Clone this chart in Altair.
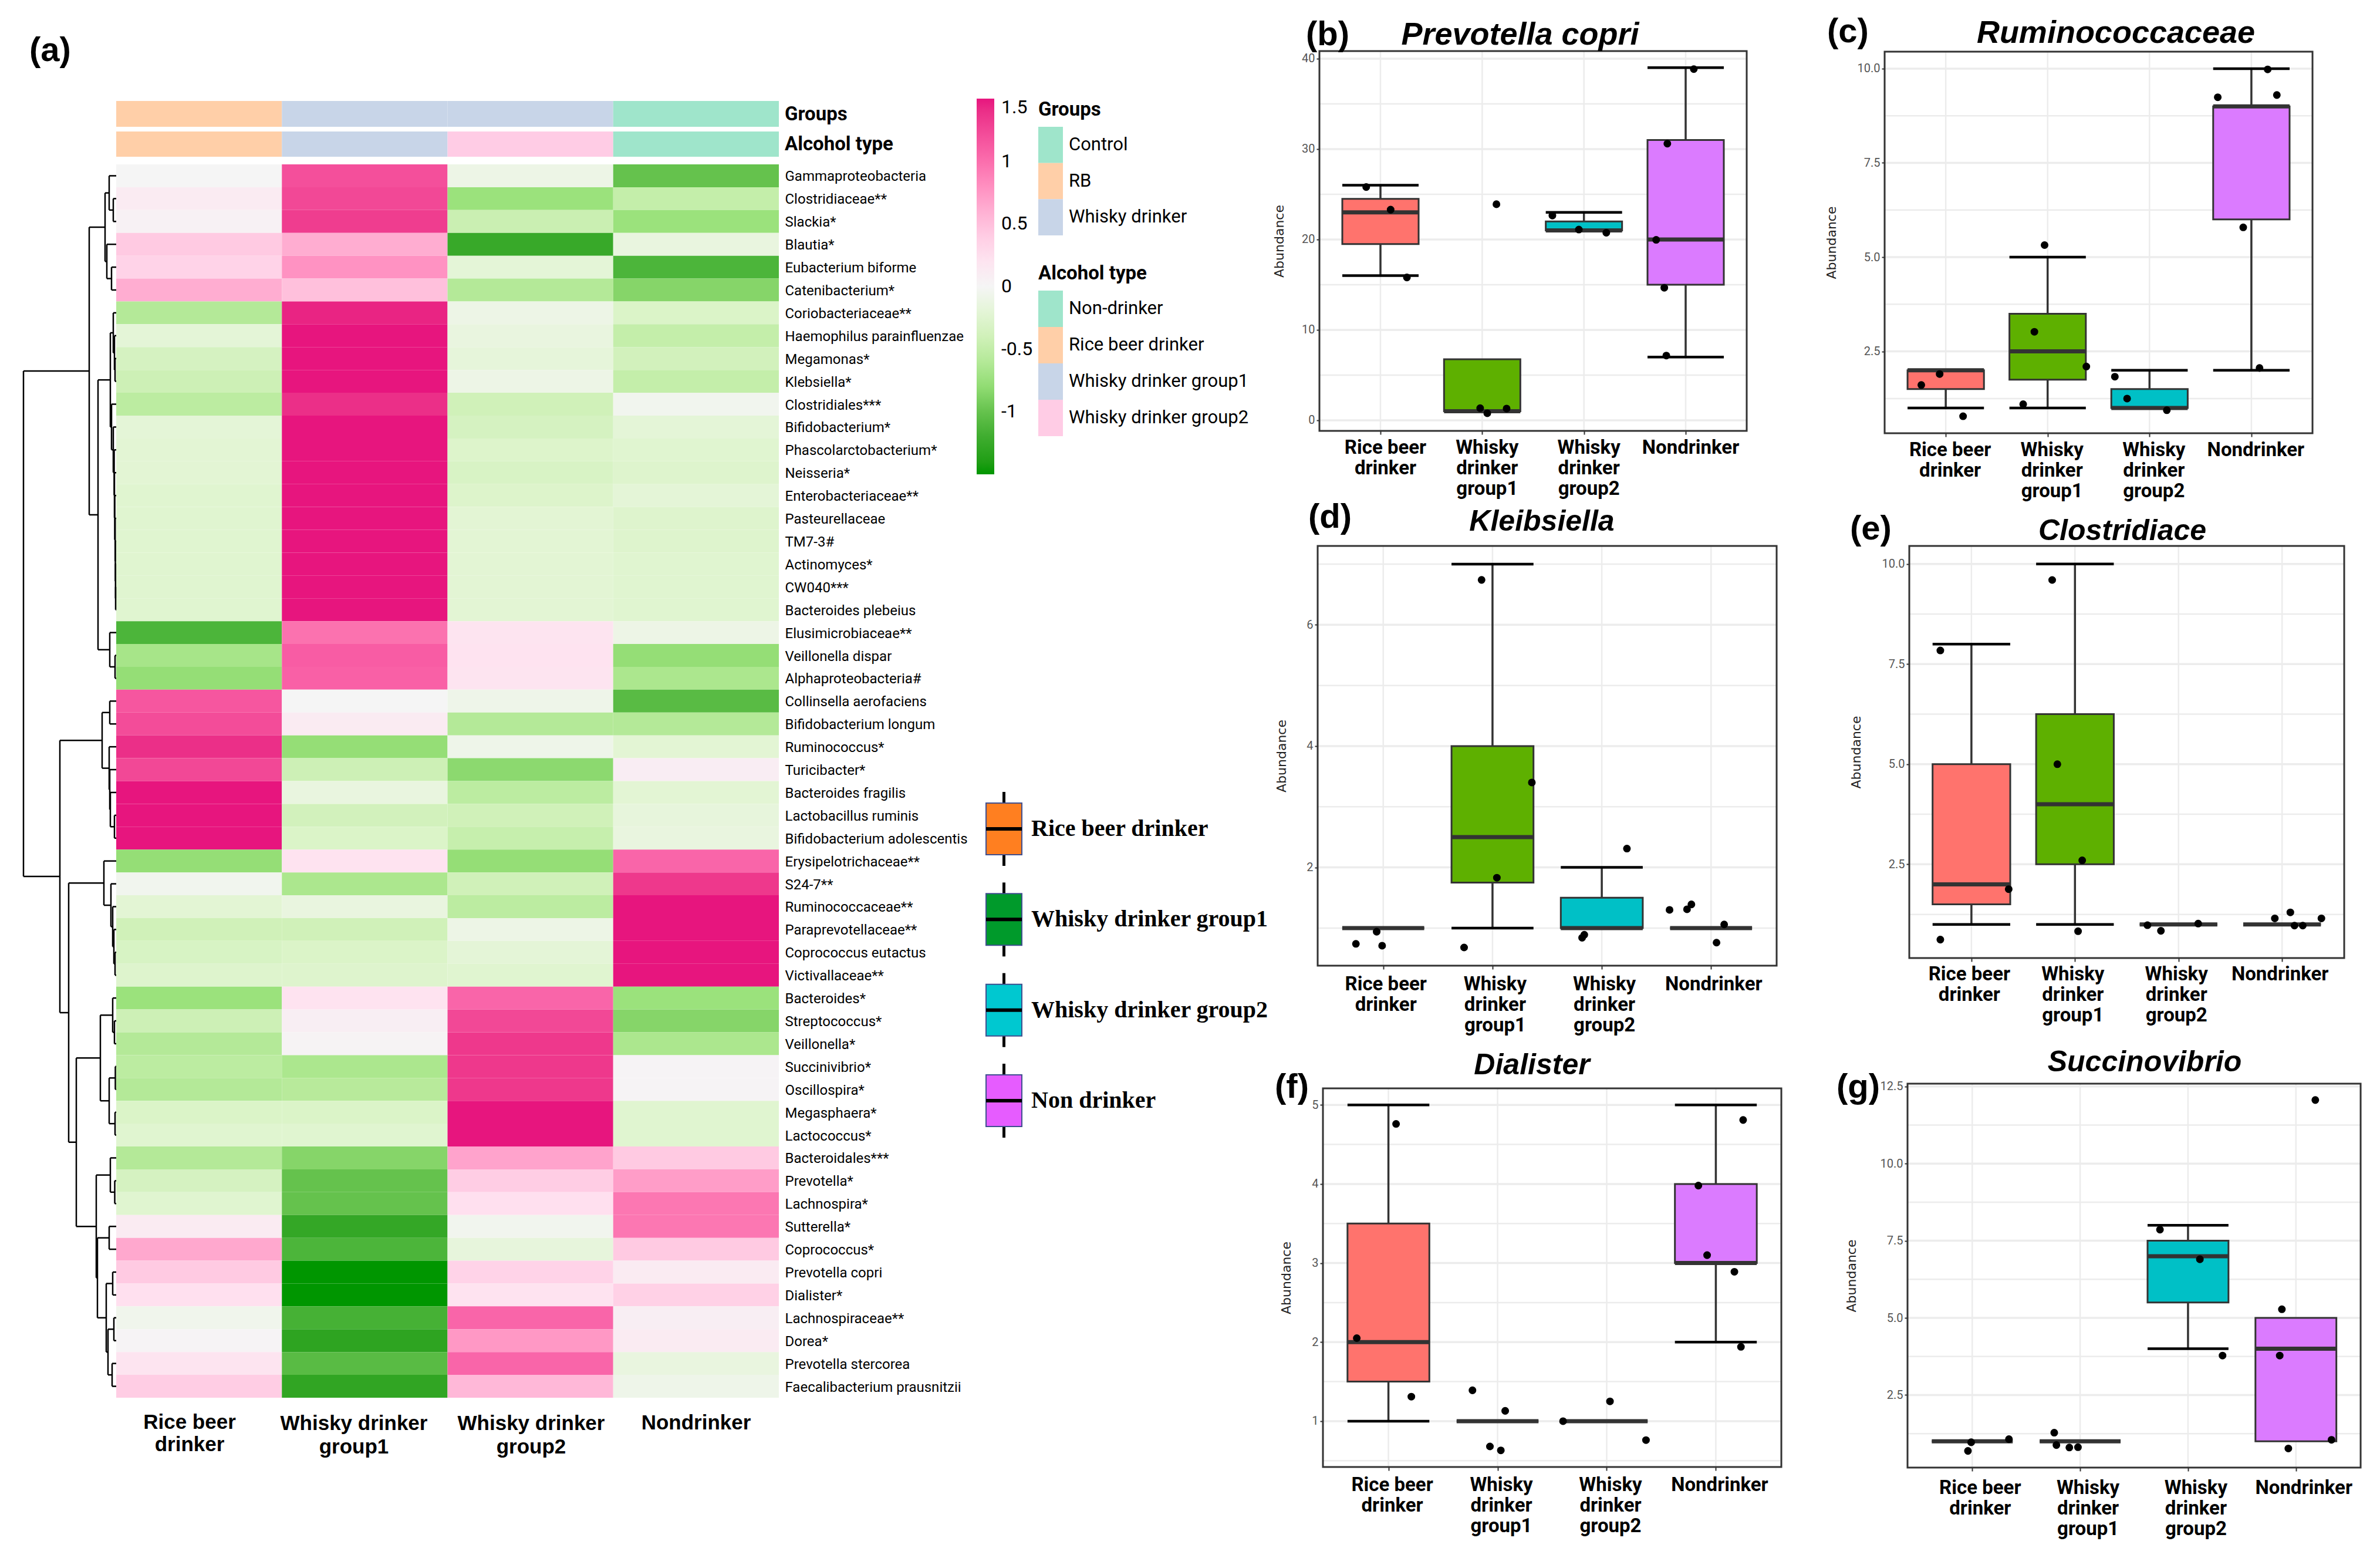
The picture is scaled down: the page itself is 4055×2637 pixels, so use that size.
import altair as alt
import pandas as pd

W, H = 4039, 2621
SANS = "Liberation Sans"
NARROW = "Roboto"
SERIF = "Liberation Serif"
ONE = alt.Data(values=[{"k": 1}])

def px(v):
    return v - 8

# ---------------- heatmap values ----------------
COLUMNS = ["Rice beer drinker", "Whisky drinker group1", "Whisky drinker group2", "Nondrinker"]
TAXA = ["Gammaproteobacteria", "Clostridiaceae**", "Slackia*", "Blautia*", "Eubacterium biforme", "Catenibacterium*",
        "Coriobacteriaceae**", "Haemophilus parainfluenzae", "Megamonas*", "Klebsiella*", "Clostridiales***",
        "Bifidobacterium*", "Phascolarctobacterium*", "Neisseria*", "Enterobacteriaceae**", "Pasteurellaceae",
        "TM7-3#", "Actinomyces*", "CW040***", "Bacteroides plebeius", "Elusimicrobiaceae**", "Veillonella dispar",
        "Alphaproteobacteria#", "Collinsella aerofaciens", "Bifidobacterium longum", "Ruminococcus*", "Turicibacter*",
        "Bacteroides fragilis", "Lactobacillus ruminis", "Bifidobacterium adolescentis", "Erysipelotrichaceae**",
        "S24-7**", "Ruminococcaceae**", "Paraprevotellaceae**", "Coprococcus eutactus", "Victivallaceae**",
        "Bacteroides*", "Streptococcus*", "Veillonella*", "Succinivibrio*", "Oscillospira*", "Megasphaera*",
        "Lactococcus*", "Bacteroidales***", "Prevotella*", "Lachnospira*", "Sutterella*", "Coprococcus*",
        "Prevotella copri", "Dialister*", "Lachnospiraceae**", "Dorea*", "Prevotella stercorea",
        "Faecalibacterium prausnitzii"]
Z = [[0, 1.2, -.1, -1.0], [.12, 1.25, -.75, -.5], [.05, 1.32, -.45, -.75], [.42, .62, -1.25, -.15],
     [.35, .78, -.2, -1.1], [.62, .5, -.6, -.85], [-.6, 1.45, -.1, -.3], [-.2, 1.5, -.15, -.5],
     [-.35, 1.5, -.18, -.38], [-.42, 1.5, -.1, -.5], [-.55, 1.4, -.4, -.05], [-.2, 1.5, -.35, -.2],
     [-.22, 1.5, -.28, -.25], [-.22, 1.5, -.32, -.27], [-.25, 1.5, -.28, -.2], [-.25, 1.5, -.22, -.27],
     [-.25, 1.5, -.22, -.27], [-.25, 1.5, -.22, -.25], [-.25, 1.5, -.22, -.25], [-.25, 1.5, -.22, -.25],
     [-1.1, .98, .2, -.1], [-.68, 1.1, .22, -.78], [-.78, 1.08, .2, -.65], [1.15, 0, -.08, -1.05],
     [1.22, .12, -.6, -.6], [1.4, -.78, -.08, -.22], [1.25, -.42, -.82, .1], [1.5, -.15, -.55, -.22],
     [1.5, -.38, -.4, -.17], [1.5, -.3, -.48, -.15], [-.78, .22, -.78, 1.05], [-.05, -.65, -.4, 1.35],
     [-.22, -.15, -.55, 1.5], [-.4, -.4, -.1, 1.5], [-.33, -.3, -.2, 1.5], [-.27, -.27, -.25, 1.5],
     [-.75, .22, 1.05, -.75], [-.42, .08, 1.25, -.85], [-.6, .03, 1.35, -.65], [-.55, -.65, 1.35, .02],
     [-.6, -.58, 1.35, .02], [-.3, -.3, 1.5, -.25], [-.25, -.25, 1.5, -.25], [-.6, -.85, .68, .42],
     [-.35, -1.0, .4, .72], [-.25, -1.0, .25, .95], [.12, -1.28, -.05, .95], [.65, -1.1, -.17, .42],
     [.42, -1.5, .35, .12], [.25, -1.5, .22, .37], [-.06, -1.15, 1.05, .08], [.02, -1.32, .75, .12],
     [.2, -1.05, 1.05, -.15], [.4, -1.3, .55, -.08]]

# dendrogram: (merge height, left, right), leaves are row numbers
TREE = (158,
        (46,
         (19, (12, 1, (5, 2, 3)), (16, 4, (8, 5, 6))),
         (31,
          (10,
           (5, 7, (3, 8, (2, 9, 10))),
           (8, 11, (5, 12, (3.5, 13, (3, 14, (2.5, 15, (1.8, 16, (1.5, 17, (1.2, 18, (1, 19, 20))))))))),
           ),
          (11, 21, (2, 22, 23)))),
        (96,
         (24, (11, 24, 25), (12, 26, (11, 27, (10, 28, (3, 29, 30))))),
         (81,
          (21, 31, (9, 32, (6, 33, (4, 34, (2, 35, 36))))),
          (68,
           (27, (6, 37, (3, 38, 39)), (12, (1.5, 40, 41), (2, 42, 43))),
           (34,
            (10, 44, (2.5, 45, 46)),
            (32,
             (12, 47, 48),
             (17, (6, 49, 50), (14, (4, 51, 52), (7, 53, 54)))))))))

GROUP_LEVELS = ["Control", "RB", "Whisky drinker"]
ALCOHOL_LEVELS = ["Non-drinker", "Rice beer drinker", "Whisky drinker group1", "Whisky drinker group2"]
GROUP_BY_COL = ["RB", "Whisky drinker", "Whisky drinker", "Control"]
ALCOHOL_BY_COL = ["Rice beer drinker", "Whisky drinker group1", "Whisky drinker group2", "Non-drinker"]
GROUP_COLORS = ["#9fe5cb", "#ffcfa8", "#c8d5e8"]
ALCOHOL_COLORS = ["#9fe5cb", "#ffcfa8", "#c8d5e8", "#ffcce5"]

HEAT_STOPS = [-1.5, -1.1, -.75, -.5, -.25, 0, .25, .5, .8, 1.1, 1.5]
HEAT_COLORS = ["#009600", "#4cb53a", "#9be27c", "#c4eeaa", "#e0f5d0", "#f5f5f5", "#ffe0ef", "#ffc0dc", "#ff8fc0",
               "#f85ca4", "#e7157e"]

KEY_NAMES = ["Rice beer drinker", "Whisky drinker group1", "Whisky drinker group2", "Non drinker"]
KEY_COLORS = ["#ff7f20", "#009a2b", "#00c8d0", "#e65cff"]

# ---------------- box panels: [low, q1, median, q3, high] per group ----------------
BOX_FILL = ["#ff736d", "#5eb000", "#00c0c6", "#db7bff"]
B_STATS = [[16, 19.5, 23, 24.5, 26], [1, 1, 1, 6.75, 6.75], [21, 21, 21, 22, 23], [7, 15, 20, 31, 39]]
B_POINTS = [(.86, 25.8), (1.10, 23.3), (1.26, 15.8), (2.14, 23.9), (1.98, 1.34), (2.05, .78), (2.24, 1.3),
            (2.69, 22.65), (2.95, 21.1), (3.22, 20.75), (4.08, 38.85), (3.82, 30.6), (3.71, 19.96), (3.79, 14.66),
            (3.81, 7.16)]
C_STATS = [[1, 1.5, 2, 2, 2], [1, 1.75, 2.5, 3.5, 5], [1, 1, 1, 1.5, 2], [2, 6, 9, 9, 10]]
C_POINTS = [(.76, 1.61), (.94, 1.9), (1.17, .78), (1.97, 5.32), (1.87, 3.02), (2.38, 2.1), (1.76, 1.1), (2.66, 1.83),
            (2.78, 1.25), (3.17, .94), (4.16, 9.98), (3.67, 9.24), (4.25, 9.3), (3.92, 5.79), (4.08, 2.06)]
D_STATS = [[1, 1, 1, 1, 1], [1, 1.75, 2.5, 4, 7], [1, 1, 1, 1.5, 2], [1, 1, 1, 1, 1]]
D_POINTS = [(.75, .74), (.94, .94), (.99, .71), (1.9, 6.74), (2.36, 3.4), (2.04, 1.83), (1.74, .68), (3.23, 2.31),
            (2.84, .89), (2.82, .84), (3.62, 1.3), (3.78, 1.31), (3.82, 1.39), (4.12, 1.06), (4.05, .76)]
E_STATS = [[1, 1.5, 2, 5, 8], [1, 2.5, 4, 6.25, 10], [1, 1, 1, 1, 1], [1, 1, 1, 1, 1]]
E_POINTS = [(.7, 7.84), (1.36, 1.88), (.7, .62), (1.78, 9.6), (1.83, 5.0), (2.07, 2.6), (2.03, .83), (2.7, .98),
            (2.83, .84), (3.19, 1.02), (3.93, 1.15), (4.08, 1.3), (4.12, .97), (4.2, .97), (4.38, 1.15)]
F_STATS = [[1, 1.5, 2, 3.5, 5], [1, 1, 1, 1, 1], [1, 1, 1, 1, 1], [2, 3, 3, 4, 5]]
F_POINTS = [(1.07, 4.76), (.71, 2.05), (1.21, 1.31), (1.77, 1.39), (2.07, 1.13), (1.93, .68), (2.03, .63), (2.6, 1.0),
            (3.03, 1.25), (3.36, .76), (4.25, 4.81), (3.84, 3.98), (3.92, 3.1), (4.17, 2.89), (4.23, 1.94)]
G_STATS = [[1, 1, 1, 1, 1], [1, 1, 1, 1, 1], [4, 5.5, 7, 7.5, 8], [1, 1, 4, 5, 5]]
G_POINTS = [(.99, .97), (1.34, 1.07), (.96, .69), (1.76, 1.28), (1.78, .88), (1.9, .8), (1.98, .81), (2.74, 7.86),
            (3.11, 6.9), (3.32, 3.78), (3.87, 5.28), (3.85, 3.78), (4.33, 1.05), (3.93, .77), (4.18, 12.06)]

BOX_LABELS = "split(['Rice beer|drinker','Whisky|drinker|group1','Whisky|drinker|group2','Nondrinker'][datum.value-1],'|')"


def label(text, x, y, size, weight="normal", style="normal", font=SANS, align="left", color="black"):
    return alt.Chart(ONE).mark_text(text=text, fontSize=size, fontWeight=weight, fontStyle=style, font=font,
                                    align=align, baseline="middle", color=color).encode(
        x=alt.value(px(x)), y=alt.value(px(y)))


def box_panel(stats, points, frame, ydom, majors, minors, fmt, label_dx, label_pad, title_dist):
    x0, x1, y0, y1 = [px(v) for v in frame]
    xs = alt.Scale(domain=[.4, 4.6], range=[x0, x1], nice=False, zero=False)
    ys = alt.Scale(domain=ydom, range=[y1, y0], nice=False, zero=False)
    box = pd.DataFrame(stats, columns=["lo", "q1", "med", "q3", "hi"])
    box["g"] = [1, 2, 3, 4]
    box["l"] = box.g - .375
    box["r"] = box.g + .375
    up = box[box.hi > box.q3]
    dn = box[box.lo < box.q1]
    pts = pd.DataFrame(points, columns=["x", "y"])
    gr = pd.DataFrame({"v": list(majors) + list(minors),
                       "w": ["major"] * len(majors) + ["minor"] * len(minors),
                       "a": .4, "b": 4.6})
    vert = pd.DataFrame({"g": [1, 2, 3, 4], "lo": ydom[0], "hi": ydom[1]})
    fr = pd.DataFrame({"a": [.4], "b": [4.6], "lo": [ydom[0]], "hi": [ydom[1]]})

    xq = lambda f: alt.X(f, type="quantitative", scale=xs, axis=None)
    yq = lambda f: alt.Y(f, type="quantitative", scale=ys, axis=None)

    grid_h = alt.Chart(gr).mark_rule(color="#ececec").encode(
        x=alt.X("a:Q", scale=xs, axis=alt.Axis(
            orient="bottom", offset=y1 - H, values=[1, 2, 3, 4], grid=False, domain=False, title=None,
            labelExpr=BOX_LABELS, labelFontSize=33, labelFontWeight="bold", labelFont=NARROW, labelColor="black",
            labelLineHeight=35, labelOverlap=False, labelOffset=label_dx, labelPadding=label_pad, tickSize=6,
            tickWidth=2, tickColor="#333333", labelFlush=False, labelBound=False, labelLimit=500)),
        x2="b:Q",
        y=alt.Y("v:Q", scale=ys, axis=alt.Axis(
            orient="left", offset=-x0, values=list(majors), format=fmt, grid=False, domain=False,
            title="Abundance", titleFont="DejaVu Sans", titleFontSize=22, titleFontWeight="normal",
            titleColor="#222222", titleX=-title_dist, labelFontSize=20, labelFont=NARROW, labelColor="#555555",
            labelOverlap=False, tickSize=5, tickWidth=2, tickColor="#333333", labelPadding=3, labelFlush=False,
            labelBound=False)),
        strokeWidth=alt.StrokeWidth("w:N", scale=alt.Scale(domain=["major", "minor"], range=[3.5, 2.5]), legend=None))
    grid_v = alt.Chart(vert).mark_rule(color="#ececec", strokeWidth=2.5).encode(
        x=xq("g"), y=yq("lo"), y2="hi:Q")
    whisk_up = alt.Chart(up).mark_rule(color="#333333", strokeWidth=3.5).encode(x=xq("g"), y=yq("q3"), y2="hi:Q")
    whisk_dn = alt.Chart(dn).mark_rule(color="#333333", strokeWidth=3.5).encode(x=xq("g"), y=yq("lo"), y2="q1:Q")
    cap_up = alt.Chart(up).mark_rule(color="black", strokeWidth=4.5).encode(x=xq("l"), x2="r:Q", y=yq("hi"))
    cap_dn = alt.Chart(dn).mark_rule(color="black", strokeWidth=4.5).encode(x=xq("l"), x2="r:Q", y=yq("lo"))
    rects = alt.Chart(box).mark_rect(stroke="#333333", strokeWidth=3).encode(
        x=xq("l"), x2="r:Q", y=yq("q1"), y2="q3:Q",
        color=alt.Color("g:N", scale=alt.Scale(domain=[1, 2, 3, 4], range=BOX_FILL), legend=None))
    med = alt.Chart(box).mark_rule(color="#333333", strokeWidth=7).encode(x=xq("l"), x2="r:Q", y=yq("med"))
    dots = alt.Chart(pts).mark_circle(color="black", size=170, opacity=1).encode(x=xq("x"), y=yq("y"))
    frm = alt.Chart(fr).mark_rect(fill="transparent", stroke="#333333", strokeWidth=3).encode(
        x=xq("a"), x2="b:Q", y=yq("lo"), y2="hi:Q")
    return [grid_h, grid_v, whisk_up, whisk_dn, cap_up, cap_dn, rects, med, dots, frm]


layers = []

# ---------------- heatmap ----------------
heat_x = alt.Scale(type="band", domain=COLUMNS, range=[px(198), px(1327)], paddingInner=0, paddingOuter=0)
heat_y = alt.Scale(type="band", domain=TAXA, range=[px(280), px(2381)], paddingInner=0, paddingOuter=0)
heat_df = pd.DataFrame([{"taxon": t, "col": c, "z": v}
                        for t, row in zip(TAXA, Z) for c, v in zip(COLUMNS, row)])
layers.append(alt.Chart(heat_df).mark_rect().encode(
    x=alt.X("col:N", scale=heat_x, axis=None),
    y=alt.Y("taxon:N", scale=heat_y, axis=alt.Axis(
        orient="right", offset=px(1327) - W, title=None, domain=False, ticks=False, grid=False, labelFont=NARROW,
        labelFontSize=24, labelColor="black", labelPadding=10, labelLimit=500, labelOverlap=False, labelBound=False,
        labelOffset=2)),
    color=alt.Color("z:Q", scale=alt.Scale(domain=HEAT_STOPS, range=HEAT_COLORS, clamp=True),
                    legend=alt.Legend(orient="none", legendX=px(1664), legendY=px(168), title=None,
                                      gradientLength=640, gradientThickness=30, values=[-1, -.5, 0, .5, 1, 1.5],
                                      labelExpr="'' + datum.value", labelFontSize=32, labelFont=NARROW,
                                      labelColor="black", labelOffset=12, labelOverlap=False,
                                      gradientStrokeWidth=0))))

# annotation tracks
for by_col, levels, colors, top, bot in [(GROUP_BY_COL, GROUP_LEVELS, GROUP_COLORS, 172, 216),
                                         (ALCOHOL_BY_COL, ALCOHOL_LEVELS, ALCOHOL_COLORS, 224, 267)]:
    df = pd.DataFrame({"col": COLUMNS, "lvl": by_col, "a": [0] * 4, "b": [1] * 4})
    layers.append(alt.Chart(df).mark_rect().encode(
        x=alt.X("col:N", scale=heat_x, axis=None),
        y=alt.Y("a:Q", scale=alt.Scale(domain=[0, 1], range=[px(bot), px(top)]), axis=None),
        y2="b:Q",
        color=alt.Color("lvl:N", scale=alt.Scale(domain=levels, range=colors), legend=None)))

# swatch legends
for levels, colors, top, bot in [(GROUP_LEVELS, GROUP_COLORS, 216, 401), (ALCOHOL_LEVELS, ALCOHOL_COLORS, 495, 743)]:
    df = pd.DataFrame({"lvl": levels, "a": 0, "b": 1})
    ys = alt.Scale(type="band", domain=levels, range=[px(top), px(bot)], paddingInner=0, paddingOuter=0)
    sw = alt.Chart(df).mark_rect().encode(
        x=alt.X("a:Q", scale=alt.Scale(domain=[0, 1], range=[px(1769), px(1811)]), axis=None), x2="b:Q",
        y=alt.Y("lvl:N", scale=ys, axis=None),
        color=alt.Color("lvl:N", scale=alt.Scale(domain=levels, range=colors), legend=None))
    tx = alt.Chart(df).mark_text(align="left", baseline="middle", fontSize=31, font=NARROW, color="black").encode(
        x=alt.value(px(1821)), y=alt.Y("lvl:N", scale=ys, axis=None), text="lvl:N")
    layers.extend([sw, tx])

# dendrogram
segs = []


def walk(node):
    if not isinstance(node, tuple):
        return float(node), 0.0
    h, a, b = node
    ya, ha = walk(a)
    yb, hb = walk(b)
    segs.append({"x": ha, "x2": h, "y": ya, "y2": ya})
    segs.append({"x": hb, "x2": h, "y": yb, "y2": yb})
    segs.append({"x": h, "x2": h, "y": ya, "y2": yb})
    return (ya + yb) / 2, h


walk(TREE)
layers.append(alt.Chart(pd.DataFrame(segs)).mark_rule(color="black", strokeWidth=2.5).encode(
    x=alt.X("x:Q", scale=alt.Scale(domain=[0, 178], range=[px(198), px(20)], nice=False, zero=False), axis=None),
    x2="x2:Q",
    y=alt.Y("y:Q", scale=alt.Scale(domain=[.5, 54.5], range=[px(280), px(2381)], nice=False, zero=False), axis=None),
    y2="y2:Q"))

# box-plot key
key = pd.DataFrame({"name": KEY_NAMES, "r": [0, 1, 2, 3]})
key["wt"], key["wb"], key["bt"], key["bb"] = key.r - .408, key.r + .408, key.r - .285, key.r + .285
key["a"], key["b"] = 0, 1
ky = alt.Scale(domain=[0, 3], range=[px(1412), px(1875)], nice=False, zero=False)
kx = alt.Scale(domain=[0, 1], range=[px(1680), px(1741)], nice=False, zero=False)
kxq = lambda f: alt.X(f, type="quantitative", scale=kx, axis=None)
kyq = lambda f: alt.Y(f, type="quantitative", scale=ky, axis=None)
key_w = alt.Chart(key).transform_calculate(c="0.5").mark_rule(color="black", strokeWidth=5).encode(
    x=kxq("c"), y=kyq("wt"), y2="wb:Q")
key_b = alt.Chart(key).mark_rect(stroke="#3f4f8f", strokeWidth=2).encode(
    x=kxq("a"), x2="b:Q", y=kyq("bt"), y2="bb:Q",
    color=alt.Color("name:N", scale=alt.Scale(domain=KEY_NAMES, range=KEY_COLORS), legend=None))
key_m = alt.Chart(key).mark_rule(color="black", strokeWidth=6).encode(x=kxq("a"), x2="b:Q", y=kyq("r"))
key_t = alt.Chart(key).mark_text(align="left", baseline="middle", fontSize=40, font=SERIF, fontWeight="bold",
                                 color="black").encode(x=alt.value(px(1757)), y=kyq("r"), text="name:N")
layers.extend([key_w, key_b, key_m, key_t])

# ---------------- box panels ----------------
G25 = [2.5, 5, 7.5, 10]
G25_M = [1.25, 3.75, 6.25, 8.75]
layers += box_panel(B_STATS, B_POINTS, (2248, 2976, 87, 734), [-1.17, 40.84], [0, 10, 20, 30, 40],
                    [5, 15, 25, 35], "d", 8, 6, 57)
layers += box_panel(C_STATS, C_POINTS, (3211, 3940, 88, 738), [.33, 10.45], G25, G25_M, ".1f", 7, 6, 79)
layers += box_panel(D_STATS, D_POINTS, (2245, 3027, 930, 1645), [.38, 7.3], [2, 4, 6], [1, 3, 5, 7], "d", 4, 9, 50)
layers += box_panel(E_STATS, E_POINTS, (3253, 3994, 930, 1632), [.16, 10.45], G25, G25_M, ".1f", -4, 5, 79)
layers += box_panel(F_STATS, F_POINTS, (2254, 3035, 1854, 2499), [.42, 5.21], [1, 2, 3, 4, 5],
                    [.5, 1.5, 2.5, 3.5, 4.5], "d", 6, 8, 51)
layers += box_panel(G_STATS, G_POINTS, (3250, 4022, 1846, 2500), [.15, 12.59], [2.5, 5, 7.5, 10, 12.5],
                    [1.25, 3.75, 6.25, 8.75, 11.25], ".1f", 13, 12, 84)

# ---------------- free text ----------------
TB = dict(weight="bold", align="center")
for text, x, y in [("Rice beer", 323, 2423), ("drinker", 323, 2461), ("Whisky drinker", 603, 2425),
                   ("group1", 603, 2465), ("Whisky drinker", 905, 2425), ("group2", 905, 2465),
                   ("Nondrinker", 1186, 2424)]:
    layers.append(label(text, x, y, 35, **TB))
layers.append(label("Groups", 1337, 195, 33, weight="bold", font=NARROW))
layers.append(label("Alcohol type", 1337, 246, 33, weight="bold", font=NARROW))
layers.append(label("Groups", 1769, 187, 33, weight="bold", font=NARROW))
layers.append(label("Alcohol type", 1769, 466, 33, weight="bold", font=NARROW))
for text, x, y in [("(a)", 50, 87), ("(b)", 2225, 60), ("(c)", 3113, 55), ("(d)", 2229, 882), ("(e)", 3152, 902),
                   ("(f)", 2172, 1853), ("(g)", 3129, 1853)]:
    layers.append(label(text, x, y, 58, weight="bold"))
for text, x, y, s in [("Prevotella copri", 2590, 60, 54), ("Ruminococcaceae", 3605, 57, 54), ("Kleibsiella", 2627, 889, 50),
                      ("Clostridiace", 3616, 905, 50), ("Dialister", 2610, 1815, 50), ("Succinovibrio", 3654, 1810, 50)]:
    layers.append(label(text, x, y, s, weight="bold", style="italic", align="center"))

chart = alt.layer(*layers).resolve_scale(
    x="independent", y="independent", color="independent", strokeWidth="independent"
).resolve_axis(x="independent", y="independent").properties(
    width=W, height=H, padding=0, autosize=alt.AutoSizeParams(type="none"), background="white"
).configure_view(stroke=None)

chart.save("out.html", embed_options={"renderer": "svg", "actions": False})
